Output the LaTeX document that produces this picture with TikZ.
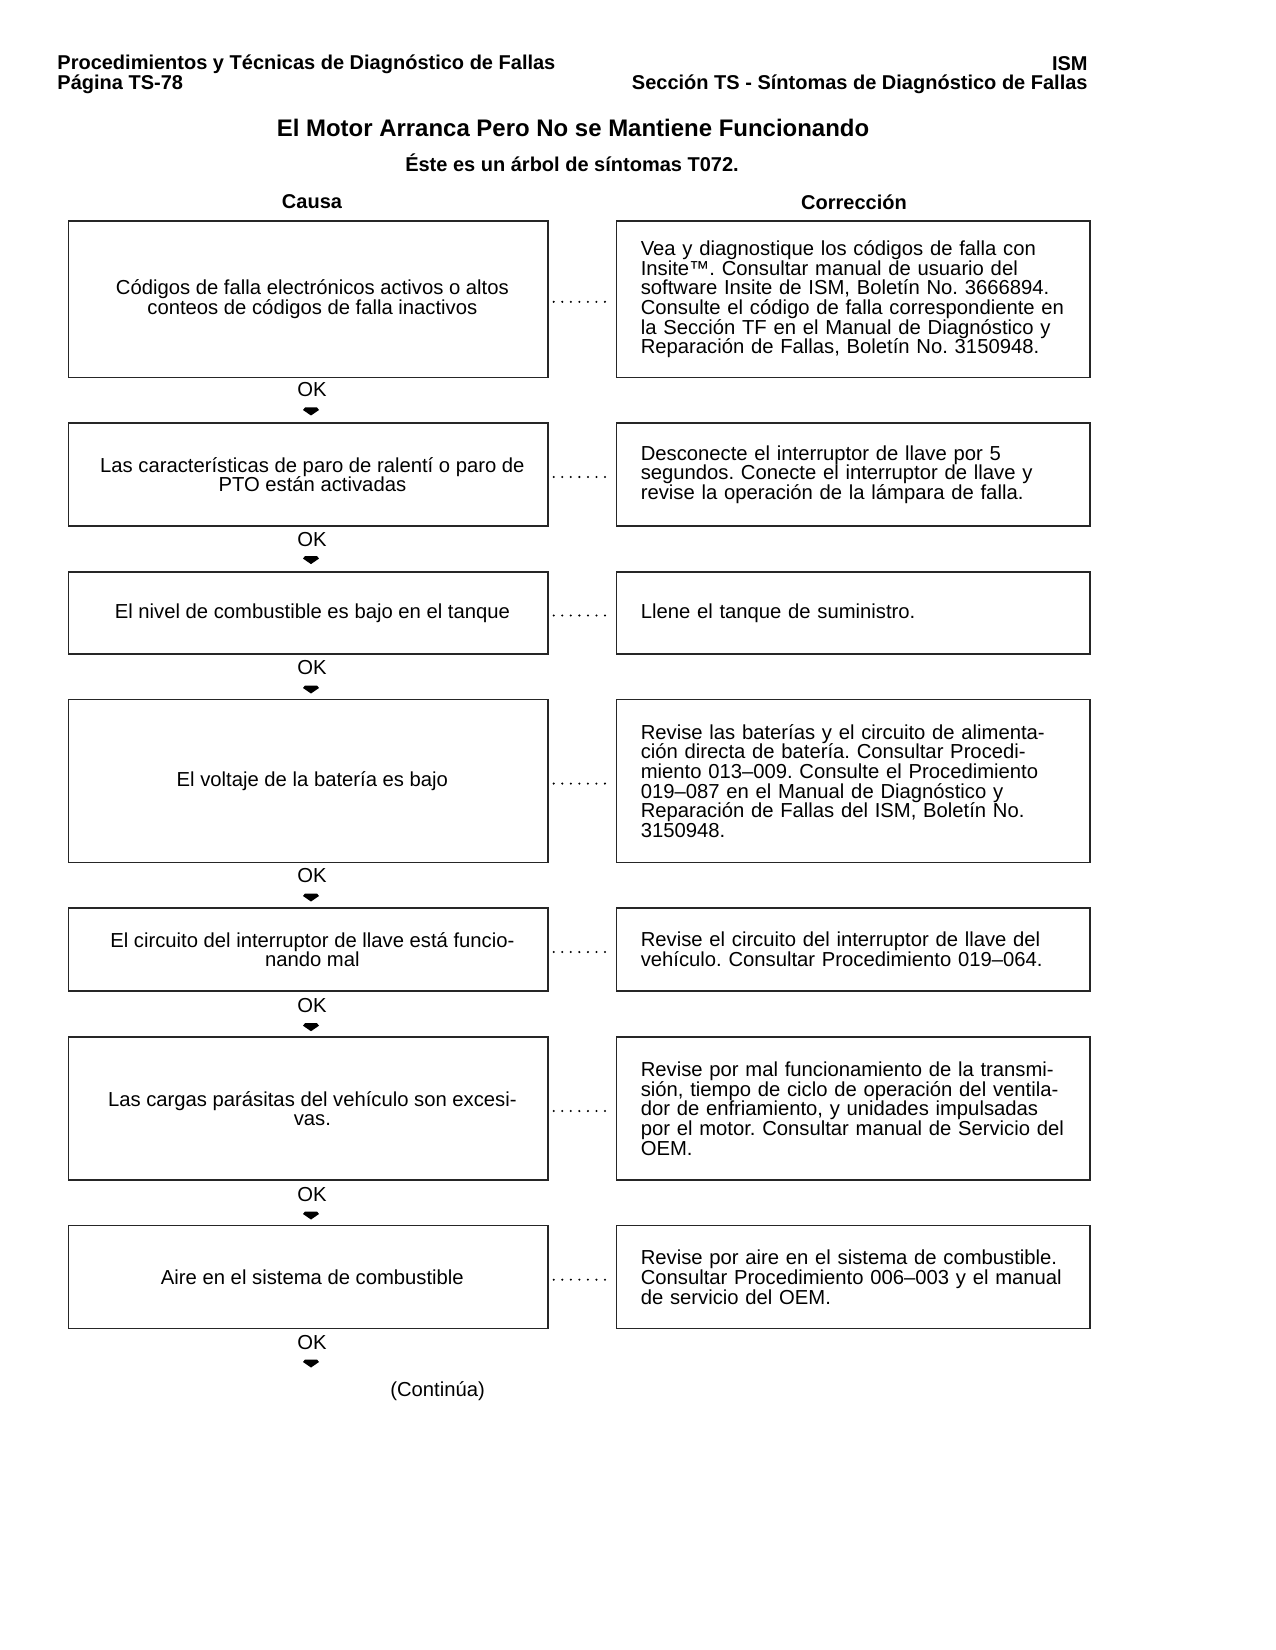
\documentclass[tikz,border=0pt]{standalone}
\usepackage{fontspec}
\setmainfont{Liberation Sans}
\frenchspacing
\begin{document}
\frenchspacing
\begin{tikzpicture}[x=0.48pt,y=-0.48pt,
  body/.style={font=\fontsize{9.72pt}{9.45pt}\selectfont},
  head/.style={font=\fontsize{9.6pt}{9.6pt}\selectfont\bfseries, inner sep=0pt},
  cause/.style={body, draw=black!85, line width=0.7pt, minimum width=230.2pt, inner sep=0pt, align=center},
  corr/.style={body, draw=black!85, line width=0.7pt, minimum width=227.3pt, inner xsep=11.6pt, inner ysep=0pt, text width=204pt, align=left},
  oklabel/.style={body, inner sep=0pt},
  dots/.style={line width=1.1pt, line cap=round, dash pattern=on 0pt off 4.1pt, shorten <=2.4pt, shorten >=1.6pt},
  okarrow/.pic={\fill (-6,-3.5) -- (6,-3.5) -- (8,-1) -- (0,4.5) -- (-8,-1) -- cycle;}
]
\useasboundingbox (0,0) rectangle (1275,1650);

% header
\node[head, anchor=west] (h1) at (57,64) {Procedimientos y Técnicas de Diagnóstico de Fallas};
\node[head, anchor=west] (h2) at (57,84) {Página TS-78};
\node[head, anchor=east] (h3) at (1088,64) {ISM};
\node[head, anchor=east] (h4) at (1088,84) {Sección TS - Síntomas de Diagnóstico de Fallas};
\node[font=\fontsize{11.5pt}{12pt}\selectfont\bfseries, inner sep=0pt] (title) at (573,128) {El Motor Arranca Pero No se Mantiene Funcionando};
\node[head] (sub) at (572,163) {Éste es un árbol de síntomas T072.};
\node[head] (causa) at (312,202) {Causa};
\node[head] (corr) at (854,202) {Corrección};

% causes
\node[cause, minimum height=75.2pt] (L1) at (308.2,299.35) {\hspace*{4pt}Códigos de falla electrónicos activos o altos\\\hspace*{4pt}conteos de códigos de falla inactivos};
\node[cause, minimum height=49.4pt] (L2) at (308.2,474.5) {\hspace*{4pt}Las características de paro de ralentí o paro de\\\hspace*{4pt}PTO están activadas};
\node[cause, minimum height=39.4pt] (L3) at (308.2,613) {\hspace*{4pt}El nivel de combustible es bajo en el tanque};
\node[cause, minimum height=78.2pt] (L4) at (308.2,781.1) {\hspace*{4pt}El voltaje de la batería es bajo};
\node[cause, minimum height=39.8pt] (L5) at (308.2,949.5) {\hspace*{4pt}El circuito del interruptor de llave está funcio-\\\hspace*{4pt}nando mal};
\node[cause, minimum height=68.6pt] (L6) at (308.2,1108.5) {\hspace*{4pt}Las cargas parásitas del vehículo son excesi-\\\hspace*{4pt}vas.};
\node[cause, minimum height=49.5pt] (L7) at (308.2,1277.15) {\hspace*{4pt}Aire en el sistema de combustible};

% corrections
\node[corr, minimum height=75.2pt] (R1) at (853.25,299.35) {Vea y diagnostique los códigos de falla con\\Insite™. Consultar manual de usuario del\\software Insite de ISM, Boletín No. 3666894.\\\mbox{Consulte el código de falla correspondiente en}\\la Sección TF en el Manual de Diagnóstico y\\Reparación de Fallas, Boletín No. 3150948.};
\node[corr, minimum height=49.4pt] (R2) at (853.25,474.5) {Desconecte el interruptor de llave por 5\\segundos. Conecte el interruptor de llave y\\revise la operación de la lámpara de falla.};
\node[corr, minimum height=39.4pt] (R3) at (853.25,613) {Llene el tanque de suministro.};
\node[corr, minimum height=78.2pt] (R4) at (853.25,781.1) {Revise las baterías y el circuito de alimenta-\\ción directa de batería. Consultar Procedi-\\miento 013–009. Consulte el Procedimiento\\019–087 en el Manual de Diagnóstico y\\Reparación de Fallas del ISM, Boletín No.\\3150948.};
\node[corr, minimum height=39.8pt] (R5) at (853.25,949.5) {Revise el circuito del interruptor de llave del\\vehículo. Consultar Procedimiento 019–064.};
\node[corr, minimum height=68.6pt] (R6) at (853.25,1108.5) {\mbox{Revise por mal funcionamiento de la transmi-}\\\mbox{sión, tiempo de ciclo de operación del ventila-}\\dor de enfriamiento, y unidades impulsadas\\\mbox{por el motor. Consultar manual de Servicio del}\\OEM.};
\node[corr, minimum height=49.5pt] (R7) at (853.25,1277.15) {Revise por aire en el sistema de combustible.\\\mbox{Consultar Procedimiento 006–003 y el manual}\\de servicio del OEM.};

% dotted links
\foreach \i in {1,...,7} {
  \draw[dots] ([yshift=-1.2pt]L\i.east) -- ([yshift=-1.2pt]R\i.west);
}

% OK labels and arrows
\node[oklabel] (ok1) at (312,390) {OK};
\node[oklabel] (ok2) at (312,539.6) {OK};
\node[oklabel] (ok3) at (312,668) {OK};
\node[oklabel] (ok4) at (312,876) {OK};
\node[oklabel] (ok5) at (312,1005.7) {OK};
\node[oklabel] (ok6) at (312,1195) {OK};
\node[oklabel] (ok7) at (312,1343) {OK};
\pic at (311,411) {okarrow};
\pic at (311,559.6) {okarrow};
\pic at (311,689) {okarrow};
\pic at (311,897) {okarrow};
\pic at (311,1026.7) {okarrow};
\pic at (311,1215) {okarrow};
\pic at (311,1363) {okarrow};

\node[body, inner sep=0pt] (cont) at (437.6,1391) {(Continúa)};
\end{tikzpicture}
\end{document}
